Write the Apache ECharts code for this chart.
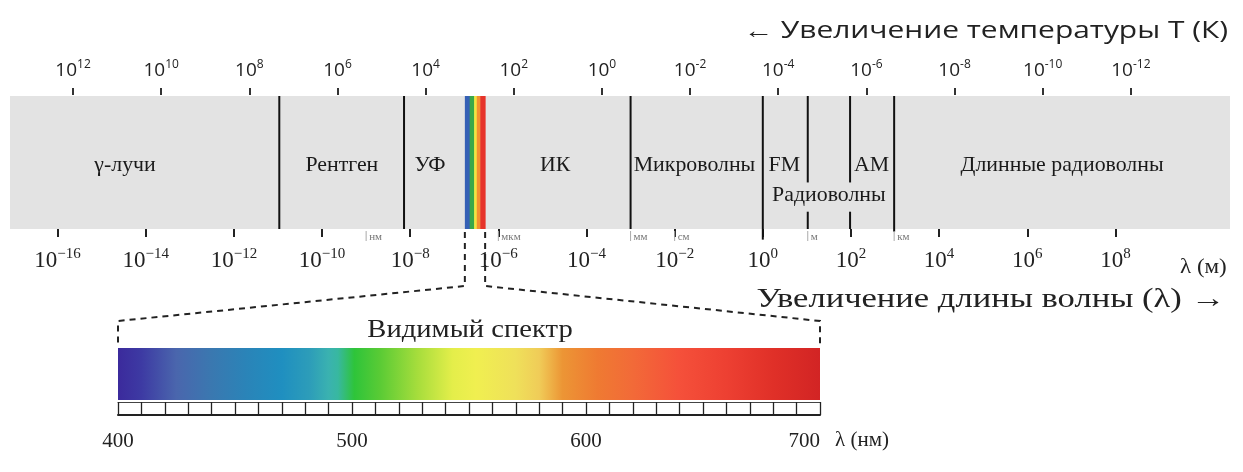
<!DOCTYPE html>
<html><head><meta charset="utf-8">
<script src="https://cdn.jsdelivr.net/npm/echarts@6/dist/echarts.min.js"></script>
<style>html,body{margin:0;padding:0;background:#fff}#c{width:1243px;height:472px}</style>
</head><body><div id="c"></div>
<script>
// ---- data (log10 of wavelength in metres unless stated) ----
const lambdaTicks = [-16,-14,-12,-10,-8,-6,-4,-2,0,2,4,6,8];
const tempTicks = [12,10,8,6,4,2,0,-2,-4,-6,-8,-10,-12];
const bandNames = ['γ-лучи','Рентген','УФ','ИК','Микроволны','FM','AM','Длинные радиоволны','Радиоволны'];
const bandCenters = [-14.47,-9.55,-7.55,-4.71,-1.55,0.49,2.47,6.79,1.5];
const bandRows = [0.48,0.48,0.48,0.48,0.48,0.48,0.48,0.48,0.25];
// dividers: [log λ, from, to] (fraction of band height)
const dividers = [[-10.97,0,1],[-8.14,0,1],[-3.0,0,1],[0,-0.08,1],[1.02,0.35,1],[1.02,0,0.13],[1.98,0.35,1],[1.98,0,0.13],[2.98,-0.02,1]];
const unitNames = ['нм','мкм','мм','см','м','км'];
const unitPos = [-9,-6,-3,-2,1.02,2.98];
const stripEdges = [-6.76,-6.65,-6.55,-6.49,-6.41,-6.30];
const stripColors = ['#3560b5','#3aa84a','#f2e440','#f39030','#e6332a'];
// visible spectrum (nm)
const visWl = [400,410,425,440,455,470,482,490,494,501,512,528,543,553,570,580,590,605,620,640,660,680,700];
const visColors = ['#3b2a9c','#3d3aa3','#4a66ad','#3a78b0','#2a84b8','#1f8fc0','#2d9db9','#3ab2b0','#38b8a0','#2ec43a','#5acb35','#a6dd3c','#e4ee4a','#f0ef50','#efe05a','#f0cc58','#ec9535','#ef7a32','#f26a38','#f5503a','#ed4032','#e03028','#d22424'];
const visLabels = [400,500,600,700];

const serif = '"Liberation Serif","DejaVu Serif",serif';
const sans = '"Open Sans","Noto Sans",sans-serif';
const chart = echarts.init(document.getElementById('c'), null, {renderer:'canvas'});

function expLabel(minusChar){
  return v => '{b|10}{s|' + (v < 0 ? minusChar + (-v) : v) + '}';
}

const option = {
  animation:false,
  grid:[
    {left:10, right:13, top:96, height:133, show:true, backgroundColor:'#e3e3e3', borderWidth:0},
    {left:118, width:702, top:348, height:52},
    {left:118, width:702, top:402, height:13}
  ],
  xAxis:[
    {gridIndex:0, type:'value', position:'bottom', min:-17.08, max:10.6, offset:2,
     axisLine:{show:false}, splitLine:{show:false},
     axisTick:{show:true, length:8, lineStyle:{color:'#222', width:2}, customValues:lambdaTicks},
     axisLabel:{customValues:lambdaTicks, margin:16, formatter:expLabel('−'), color:'#222',
       rich:{b:{fontFamily:serif, fontSize:23, verticalAlign:'bottom', color:'#222'},
             s:{fontFamily:serif, fontSize:15, verticalAlign:'bottom', padding:[0,0,10,0], color:'#222'}}}},
    {gridIndex:0, type:'value', position:'top', inverse:true, min:-14.25, max:13.43, offset:1,
     axisLine:{show:false}, splitLine:{show:false},
     axisTick:{show:true, length:7, lineStyle:{color:'#333', width:2}, customValues:tempTicks},
     axisLabel:{customValues:tempTicks, margin:15, formatter:expLabel('-'), color:'#222',
       rich:{b:{fontFamily:sans, fontSize:19, verticalAlign:'bottom', color:'#222'},
             s:{fontFamily:sans, fontSize:12, verticalAlign:'bottom', padding:[0,0,9,0], color:'#222'}}}},
    {gridIndex:1, type:'value', min:400, max:700, show:false},
    {gridIndex:2, type:'value', position:'bottom', min:400, max:700, interval:10,
     axisLine:{show:true, lineStyle:{color:'#222', width:2}},
     axisTick:{show:true, inside:true, length:13, lineStyle:{color:'#222', width:1.3}},
     splitLine:{show:false},
     axisLabel:{customValues:visLabels, margin:16, fontFamily:serif, fontSize:21, color:'#222', alignMaxLabel:'right'}},
    {gridIndex:2, type:'value', position:'top', min:400, max:700,
     axisLine:{show:true, lineStyle:{color:'#444', width:1}}, axisTick:{show:false}, axisLabel:{show:false}, splitLine:{show:false}}
  ],
  yAxis:[
    {gridIndex:0, type:'value', min:0, max:1, show:false},
    {gridIndex:1, type:'value', min:0, max:1, show:false},
    {gridIndex:2, type:'value', min:0, max:1, show:false}
  ],
  series:[
    // rainbow strip
    {type:'custom', xAxisIndex:0, yAxisIndex:0, silent:true, z:3,
     data: stripColors.map((c,i)=>[stripEdges[i], stripEdges[i+1]]),
     renderItem:(p,api)=>{
       const a = api.coord([api.value(0),1]), b = api.coord([api.value(1),0]);
       return {type:'rect', shape:{x:a[0], y:a[1], width:b[0]-a[0]+0.5, height:b[1]-a[1]}, style:{fill:stripColors[p.dataIndex]}};
     }},
    // dividers
    {type:'custom', xAxisIndex:0, yAxisIndex:0, silent:true, z:4, data:dividers,
     renderItem:(p,api)=>{
       const a = api.coord([api.value(0),api.value(1)]), b = api.coord([api.value(0),api.value(2)]);
       return {type:'line', shape:{x1:a[0], y1:a[1], x2:b[0], y2:b[1]}, style:{stroke:'#111', lineWidth:2}};
     }},
    // band labels
    {type:'custom', xAxisIndex:0, yAxisIndex:0, silent:true, z:5,
     data: bandCenters.map((c,i)=>[c, bandRows[i]]),
     renderItem:(p,api)=>{
       const a = api.coord([api.value(0),api.value(1)]);
       return {type:'text', x:a[0], y:a[1], scaleX:1.04, style:{text:bandNames[p.dataIndex], fontFamily:serif, fontSize:21, fill:'#1a1a1a', align:'center', verticalAlign:'middle'}};
     }},
    // unit marks
    {type:'custom', xAxisIndex:0, yAxisIndex:0, silent:true, z:5,
     data: unitPos.map(v=>[v,0]),
     renderItem:(p,api)=>{
       const a = api.coord([api.value(0),0]);
       return {type:'group', children:[
         {type:'line', shape:{x1:a[0], y1:a[1]+2, x2:a[0], y2:a[1]+12}, style:{stroke:'#aaa', lineWidth:1}},
         {type:'text', x:a[0]+3, y:a[1]+8, style:{text:unitNames[p.dataIndex], fontFamily:serif, fontSize:11, fill:'#777', verticalAlign:'middle'}}
       ]};
     }},
    // visible spectrum gradient (one bar, colour stops placed on the nm scale)
    {type:'custom', xAxisIndex:2, yAxisIndex:1, silent:true,
     data: [[visWl[0], visWl[visWl.length-1]]],
     renderItem:(p,api)=>{
       const a = api.coord([api.value(0),1]), b = api.coord([api.value(1),0]);
       const w = b[0]-a[0];
       const stops = visWl.map((wl,i)=>({offset:(api.coord([wl,0])[0]-a[0])/w, color:visColors[i]}));
       return {type:'rect', shape:{x:a[0], y:a[1], width:w, height:b[1]-a[1]},
         style:{fill:new echarts.graphic.LinearGradient(0,0,1,0,stops)}};
     }}
  ],
  graphic:[
    {type:'text', x:1228, y:31, scaleX:1.3, style:{text:'← Увеличение температуры T (К)', fontFamily:sans, fontSize:23, fill:'#222', align:'right', verticalAlign:'middle'}},
    {type:'text', x:1225, y:300, scaleX:1.28, style:{text:'Увеличение длины волны (λ) →', fontFamily:serif, fontSize:27, fill:'#222', align:'right', verticalAlign:'middle'}},
    {type:'text', x:1180, y:268, scaleX:1.15, style:{text:'λ (м)', fontFamily:serif, fontSize:20, fill:'#222', verticalAlign:'middle'}},
    {type:'text', x:835, y:440, style:{text:'λ (нм)', fontFamily:serif, fontSize:21, fill:'#222', verticalAlign:'middle'}},
    {type:'text', x:470, y:330, scaleX:1.1, style:{text:'Видимый спектр', fontFamily:serif, fontSize:26, fill:'#222', align:'center', verticalAlign:'middle'}}
  ]
};
chart.setOption(option);

// dashed connectors from the strip in the band to the visible-spectrum bar
const sL = chart.convertToPixel({xAxisIndex:0, yAxisIndex:0}, [stripEdges[0], 0]);
const sR = chart.convertToPixel({xAxisIndex:0, yAxisIndex:0}, [stripEdges[stripEdges.length-1], 0]);
const bL = chart.convertToPixel({xAxisIndex:2, yAxisIndex:1}, [visWl[0], 1]);
const bR = chart.convertToPixel({xAxisIndex:2, yAxisIndex:1}, [visWl[visWl.length-1], 1]);
const dashStyle = {stroke:'#222', lineWidth:2, lineDash:[6,5], fill:null};
option.graphic.push(
  {type:'polyline', shape:{points:[[sL[0],sL[1]+3],[sL[0],sL[1]+57],[bL[0],bL[1]-27],[bL[0],bL[1]-1]]}, style:dashStyle},
  {type:'polyline', shape:{points:[[sR[0],sR[1]+3],[sR[0],sR[1]+57],[bR[0],bR[1]-27],[bR[0],bR[1]-1]]}, style:dashStyle}
);
chart.setOption({graphic:option.graphic});
</script></body></html>
